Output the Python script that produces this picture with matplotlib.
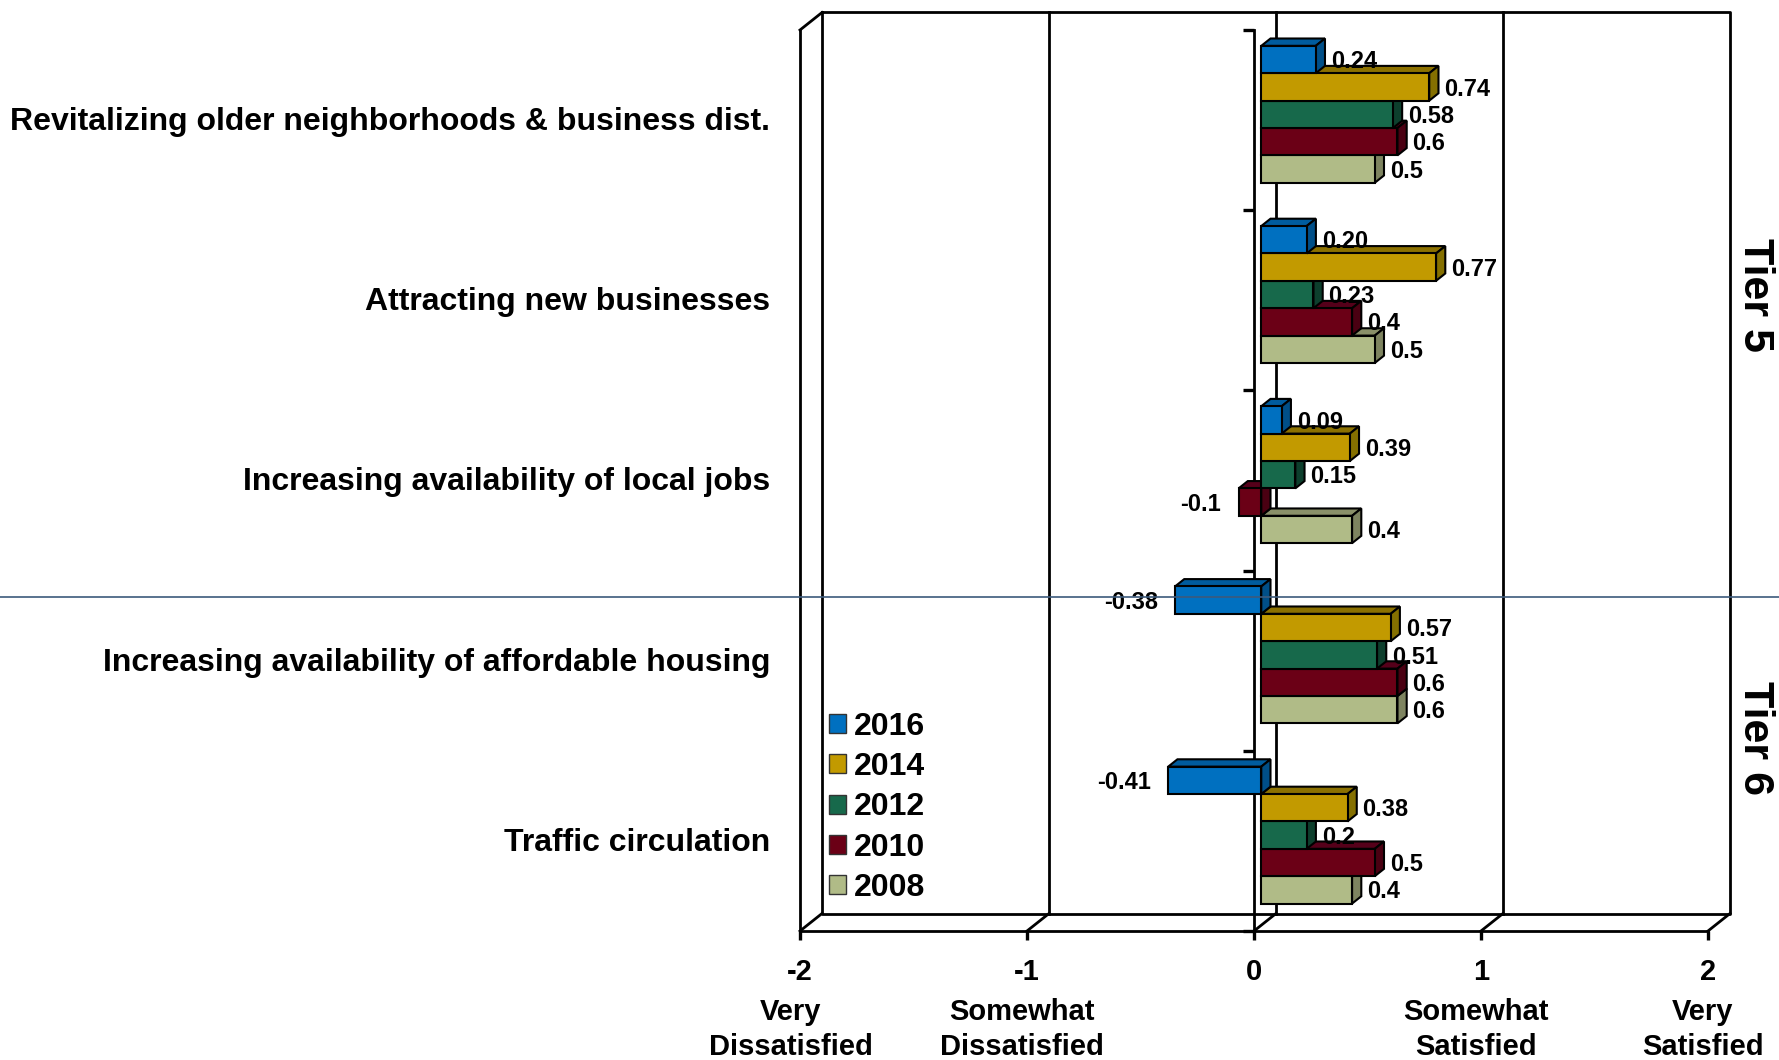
import matplotlib
matplotlib.use("Agg")
import matplotlib.pyplot as plt
from matplotlib.patches import Polygon, Patch
from matplotlib.transforms import blended_transform_factory

plt.rcParams["font.family"] = ["Liberation Sans", "DejaVu Sans"]
plt.rcParams["font.weight"] = "bold"

# ---- data ---------------------------------------------------------------
categories = [
    "Revitalizing older neighborhoods & business dist.",
    "Attracting new businesses",
    "Increasing availability of local jobs",
    "Increasing availability of affordable housing",
    "Traffic circulation",
]
years = ["2016", "2014", "2012", "2010", "2008"]
scores_2016 = [0.24, 0.20, 0.09, -0.38, -0.41]
scores_2014 = [0.74, 0.77, 0.39, 0.57, 0.38]
scores_2012 = [0.58, 0.23, 0.15, 0.51, 0.2]
scores_2010 = [0.6, 0.4, -0.1, 0.6, 0.5]
scores_2008 = [0.5, 0.5, 0.4, 0.6, 0.4]
label_formats = ["{:.2f}", "{:g}", "{:g}", "{:g}", "{:g}"]
scale_ticks = [-2, -1, 0, 1, 2]
scale_names = ["Very\nDissatisfied", "Somewhat\nDissatisfied", "",
               "Somewhat\nSatisfied", "Very\nSatisfied"]
tier_names = ["Tier 5", "Tier 6"]

series = [scores_2016, scores_2014, scores_2012, scores_2010, scores_2008]

# face colours: front, top, side
front_colors = ["#0070C0", "#C29A00", "#17694B", "#6B0016", "#B0BB87"]
top_colors = ["#005C9E", "#8C7100", "#10523A", "#55001A", "#8A9069"]
side_colors = ["#004F88", "#857000", "#0D3F2D", "#4A0012", "#7E8460"]

# ---- figure / axes (front plane of the 3-D box) --------------------------
W, H = 1779, 1060
fig = plt.figure(figsize=(W / 100, H / 100), dpi=100)
fig.patch.set_facecolor("white")
ax = fig.add_axes([800 / W, (H - 931) / H, 908 / W, 901 / H])
ax.set_xlim(-2, 2)
ax.set_ylim(len(categories), 0)
ax.set_facecolor("none")

# oblique depth offset, in data units
DX = 22 / 227
DY = -17.5 / 180.2


def proj(x, c, d):
    return (x + d * DX, c + d * DY)


LW = 2.0
n = len(categories)
line_kw = dict(color="black", lw=LW, clip_on=False, zorder=1,
               solid_capstyle="projecting")

# back wall
bx0, bx1 = -2 + DX, 2 + DX
by0, by1 = 0 + DY, n + DY
ax.plot([bx0, bx1, bx1, bx0, bx0], [by0, by0, by1, by1, by0], **line_kw)
for t in scale_ticks[1:-1]:
    ax.plot([t + DX, t + DX], [by0, by1], **line_kw)
# left side wall
ax.plot([-2, -2], [0, n], **line_kw)
ax.plot([-2, -2 + DX], [0, DY], **line_kw)
# floor diagonals
for t in scale_ticks:
    ax.plot([t, t + DX], [n, n + DY], **line_kw)

# axes spines: front floor edge and category axis at zero
for s in ["top", "right"]:
    ax.spines[s].set_visible(False)
ax.spines["left"].set_position(("data", 0))
ax.spines["left"].set_linewidth(LW)
ax.spines["bottom"].set_linewidth(LW)
ax.spines["left"].set_zorder(2)

ax.set_yticks(range(n + 1))
ax.set_yticklabels([])
ax.tick_params(axis="y", direction="out", length=8, width=2.4)

ax.set_xticks(scale_ticks)
ax.set_xticklabels([str(t) for t in scale_ticks])
ax.tick_params(axis="x", direction="out", length=6.5, width=2.4,
               pad=23, labelsize=21)
for lab in ax.get_xticklabels():
    lab.set_va("center")
    lab.set_fontweight("bold")

# descriptive scale names under the tick numbers
px_y = blended_transform_factory(ax.transData, fig.transFigure)
for t, name in zip(scale_ticks, scale_names):
    if not name:
        continue
    lines = name.split("\n")
    shift = -9 / 227 if t == -2 else -5 / 227
    for j, line in enumerate(lines):
        ax.text(t + shift, 1 - (1020 + 35 * j) / H, line, transform=px_y,
                ha="center", va="baseline", fontsize=21, fontweight="bold")

# ---- 3-D bars -----------------------------------------------------------
h = 0.152
d0, d1 = 0.33, 0.75
edge_kw = dict(edgecolor="black", lw=1.5, joinstyle="miter", zorder=3)

for k in reversed(range(n)):
    for i in reversed(range(len(series))):
        v = series[i][k]
        top = k + 0.5 - 2.5 * h + i * h
        bot = top + h
        xs = max(0, v)
        top_face = [proj(0, top, d0), proj(v, top, d0),
                    proj(v, top, d1), proj(0, top, d1)]
        side_face = [proj(xs, top, d0), proj(xs, top, d1),
                     proj(xs, bot, d1), proj(xs, bot, d0)]
        front_face = [proj(0, top, d0), proj(v, top, d0),
                      proj(v, bot, d0), proj(0, bot, d0)]
        ax.add_patch(Polygon(top_face, closed=True, facecolor=top_colors[i], **edge_kw))
        ax.add_patch(Polygon(side_face, closed=True, facecolor=side_colors[i], **edge_kw))
        ax.add_patch(Polygon(front_face, closed=True, facecolor=front_colors[i], **edge_kw))

        txt = label_formats[i].format(v)
        anchor = proj(v, top + h / 2, d0)
        if v >= 0:
            ax.annotate(txt, anchor, xytext=(10.8, -1.5), textcoords="offset points",
                        ha="left", va="center", fontsize=17, fontweight="bold",
                        zorder=4)
        else:
            ax.annotate(txt, anchor, xytext=(-12.5, -1.5), textcoords="offset points",
                        ha="right", va="center", fontsize=17, fontweight="bold",
                        zorder=4)

# ---- category labels ------------------------------------------------------
for k, name in enumerate(categories):
    ax.text(-2 + (770.5 - 800) / 227, k + 0.555, name, ha="right", va="baseline",
            fontsize=23, fontweight="bold", clip_on=False)

# ---- tier separator and tier names --------------------------------------
sep_tr = blended_transform_factory(fig.transFigure, ax.transData)
ax.plot([0, 1], [(597 - 30) / 180.2] * 2, transform=sep_tr, color="#3C5A7C",
        lw=1.2, clip_on=False, zorder=5)

tier_pos = [(295 - 30) / 180.2, (738 - 30) / 180.2]
for name, c in zip(tier_names, tier_pos):
    ax.text(-2 + (1755 - 800) / 227, c, name, rotation=270, ha="center",
            va="center", fontsize=31, fontweight="bold", clip_on=False)

# ---- legend ---------------------------------------------------------------
handles = [Patch(facecolor=front_colors[i], edgecolor="#333333", lw=1.0)
           for i in range(len(years))]
ax.legend(handles, years, loc="upper left",
          bbox_to_anchor=(829 / W, 1 - 712 / H), bbox_transform=fig.transFigure,
          frameon=False, prop=dict(size=23, weight="bold"),
          handlelength=0.54, handleheight=0.54, handletextpad=0.25,
          labelspacing=0.32, borderpad=0, borderaxespad=0)

fig.savefig("out.png", dpi=100, facecolor="white")
